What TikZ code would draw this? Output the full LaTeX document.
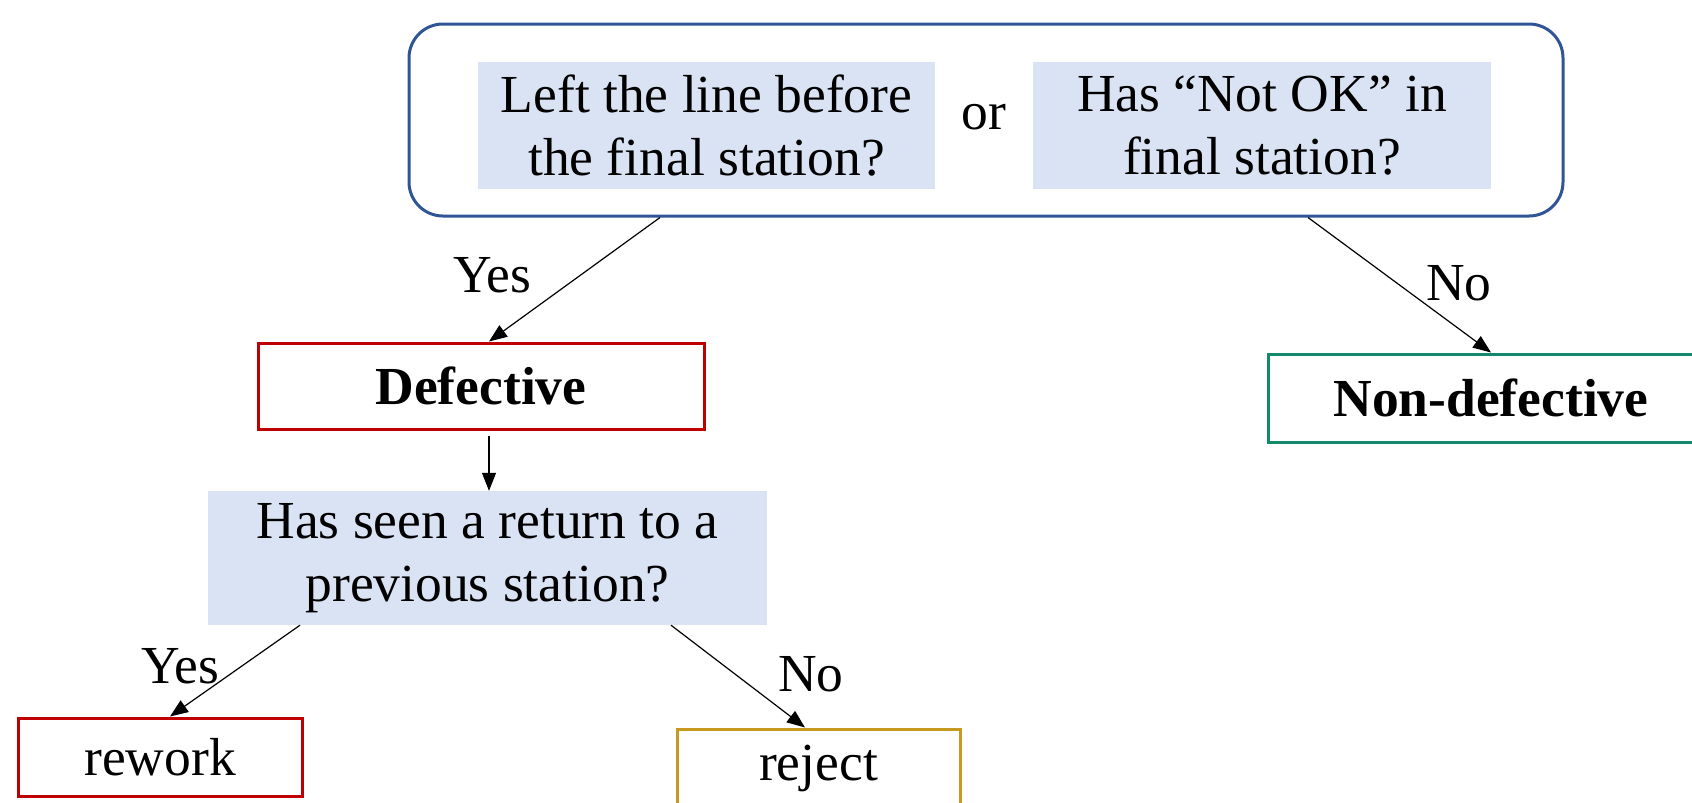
\documentclass[tikz,border=0pt]{standalone}
\usepackage{fontspec}
\setmainfont{Liberation Serif}
\usetikzlibrary{arrows.meta}
\definecolor{qfill}{HTML}{DAE3F3}
\definecolor{bigblue}{HTML}{2F5597}
\definecolor{dred}{HTML}{C00000}
\definecolor{dgreen}{HTML}{13896B}
\definecolor{gold}{HTML}{C59A1E}
\begin{document}
\begin{tikzpicture}[x=1pt,y=-1pt,
  txt/.style={font=\fontsize{53.5}{63}\selectfont, align=center, inner sep=0pt},
  qbox/.style={txt, fill=qfill, draw=none},
  outbox/.style={txt, draw, line width=3pt, fill=white},
  arr/.style={-{Triangle[length=18pt,width=14pt]}, line width=1.2pt, black},
  lab/.style={txt}
]
\useasboundingbox (0,0) rectangle (1692,803);
\node[draw=bigblue, line width=3pt, rounded corners=34pt, minimum width=1154pt, minimum height=192pt] (big) at (986,120) {};
\node[qbox, minimum width=457pt, minimum height=127pt] (q1) at (706.5,125.5) {Left the line before\\the final station?};
\node[txt] (or) at (984,117) {or};
\node[qbox, minimum width=458pt, minimum height=127pt] (q2) at (1262,125.5) {Has “Not OK” in\\final station?};
\node[outbox, draw=dred, minimum width=446pt, minimum height=86pt, font=\fontsize{53.5}{63}\selectfont\bfseries] (def) at (481,386) {Defective};
\node[outbox, draw=dgreen, minimum width=446pt, minimum height=88pt, font=\fontsize{53.5}{63}\selectfont\bfseries] (nondef) at (1491,398) {Non-defective};
\node[qbox, minimum width=559pt, minimum height=134pt] (q3) at (487.5,558) {Has seen a return to a\\previous station?};
\node[outbox, draw=dred, minimum width=284pt, minimum height=78pt] (rework) at (160,757) {rework};
\node[outbox, draw=gold, minimum width=283pt, minimum height=78pt] (reject) at (818.5,768) {reject};
\draw[arr] ([xshift=-326pt]big.south) -- ([xshift=8pt]def.north);
\draw[arr] ([xshift=322pt]big.south) -- (nondef.north);
\draw[arr] ([xshift=8pt,yshift=-5pt]def.south) -- ([xshift=1.5pt]q3.north);
\draw[arr] ([xshift=-187.5pt]q3.south) -- ([xshift=10pt]rework.north);
\draw[arr] ([xshift=183.5pt]q3.south) -- ([xshift=-13.5pt]reject.north);
\node[lab] (yes1) at (492,275) {Yes};
\node[lab] (no1) at (1459,283) {No};
\node[lab] (yes2) at (180,666) {Yes};
\node[lab] (no2) at (811,674) {No};
\end{tikzpicture}
\end{document}
